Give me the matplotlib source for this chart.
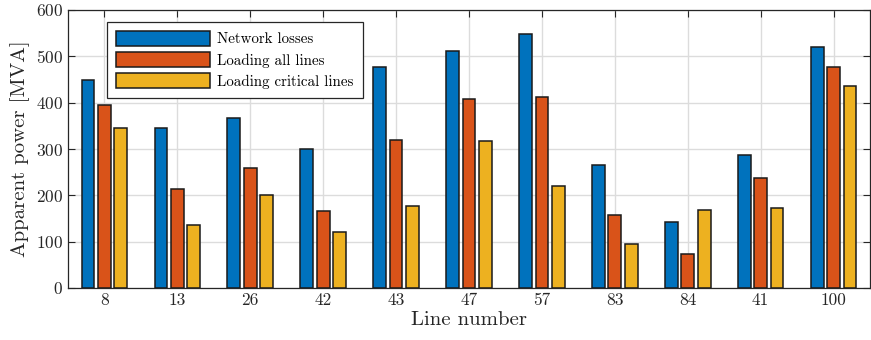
import matplotlib
matplotlib.use("Agg")
import matplotlib.pyplot as plt
import numpy as np

categories = ["8", "13", "26", "42", "43", "47", "57", "83", "84", "41", "100"]
network_losses = [448, 346, 367, 301, 477, 512, 548, 266, 142, 287, 520]
loading_all = [396, 213, 259, 167, 319, 407, 413, 157, 73, 237, 476]
loading_critical = [346, 135, 200, 120, 177, 317, 220, 96, 168, 173, 436]
series_names = ["Network losses", "Loading all lines", "Loading critical lines"]
colors = ["#0072BD", "#D95319", "#EDB120"]

plt.rcParams['font.family'] = ['cmr10', 'DejaVu Serif']
plt.rcParams['axes.formatter.use_mathtext'] = True
plt.rcParams['mathtext.fontset'] = 'cm'

fig = plt.figure(figsize=(8.71, 3.40), dpi=100)
ax = fig.add_axes([68/871, 1-288/340, 802/871, 278/340])

x = np.arange(1, len(categories) + 1)
offs = [-0.225, 0.0, 0.225]
width = 0.175
for i, vals in enumerate([network_losses, loading_all, loading_critical]):
    ax.bar(x + offs[i], vals, width, color=colors[i], edgecolor='#1a1a1a',
           linewidth=1.1, label=series_names[i], zorder=3)

ax.set_xlim(0.5, len(categories) + 0.5)
ax.set_ylim(0, 600)
ax.set_xticks(x)
ax.set_xticklabels(categories)
ax.set_yticks(np.arange(0, 601, 100))
ax.grid(True, color='#dcdcdc', linewidth=1.0, zorder=0)
ax.set_axisbelow(True)
ax.tick_params(direction='in', top=True, right=True, labelsize=12.5,
               length=5, width=0.8, color='#262626', labelcolor='#262626')
for s in ax.spines.values():
    s.set_color('#262626')
    s.set_linewidth(0.9)
ax.set_ylabel("Apparent power [MVA]", fontsize=15, color='#262626', labelpad=4)
ax.set_xlabel("Line number", fontsize=15, color='#262626', labelpad=2)

leg = ax.legend(loc='upper left', bbox_to_anchor=(0.0485, 0.957), fontsize=10.8,
                handlelength=6.3, handleheight=1.15, labelspacing=0.38,
                handletextpad=0.47, borderpad=0.6, fancybox=False,
                framealpha=1, edgecolor='#262626', borderaxespad=0)
leg.get_frame().set_linewidth(0.9)

fig.savefig("out.png", dpi=100)
